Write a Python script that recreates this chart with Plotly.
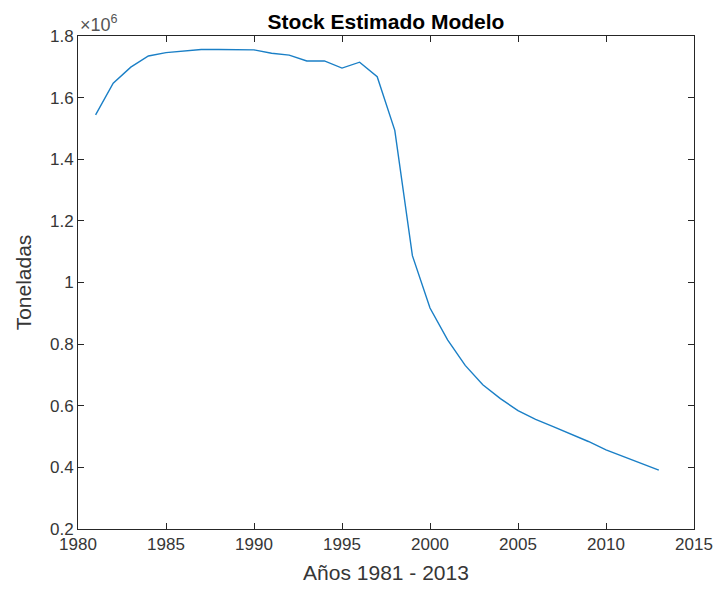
import plotly.graph_objects as go

# Estimated stock (tonnes), one value per year 1981-2013
years = list(range(1981, 2014))
stock_t = [
    1544000, 1647000, 1699000, 1735000, 1746000, 1752000, 1756000, 1756000,
    1756000, 1755000, 1744000, 1738000, 1719000, 1719000, 1696000, 1715000,
    1668000, 1494000, 1087000, 917000, 814000, 731000, 668000, 623000,
    584000, 556000, 532000, 508000, 484000, 457000, 435000, 413000, 391000,
]

x_ticks = [1980, 1985, 1990, 1995, 2000, 2005, 2010, 2015]
y_ticks = [0.2e6, 0.4e6, 0.6e6, 0.8e6, 1.0e6, 1.2e6, 1.4e6, 1.6e6, 1.8e6]
y_ticktext = ["%g" % (v / 1e6) for v in y_ticks]

font_family = "Liberation Sans, Arial, Helvetica, sans-serif"
ink = "#262626"
text_ink = "#363636"

fig = go.Figure()
fig.add_trace(go.Scatter(
    x=years, y=stock_t, mode="lines",
    line=dict(color="#1a7fc6", width=1.4),
    showlegend=False,
))

axis_common = dict(
    showline=True, linecolor=ink, linewidth=1, mirror="ticks",
    ticks="inside", ticklen=6, tickwidth=1, tickcolor=ink,
    showgrid=False, zeroline=False,
    tickfont=dict(family=font_family, size=17, color=text_ink),
)

fig.update_layout(
    width=725, height=592,
    margin=dict(l=78, r=24, t=36, b=62),
    paper_bgcolor="white", plot_bgcolor="white",
    title=dict(
        text="<b>Stock Estimado Modelo</b>",
        x=0.5, xref="paper", xanchor="center",
        y=1, yref="paper", yanchor="bottom", pad=dict(b=7),
        font=dict(family=font_family, size=21, color="black"),
    ),
    xaxis=dict(
        range=[1980, 2015], tickvals=x_ticks,
        title=dict(text="Años 1981 - 2013", standoff=11,
                   font=dict(family=font_family, size=21, color=text_ink)),
        **axis_common,
    ),
    yaxis=dict(
        range=[0.2e6, 1.8e6], tickvals=y_ticks, ticktext=y_ticktext,
        title=dict(text="Toneladas", standoff=12,
                   font=dict(family=font_family, size=21, color=text_ink)),
        **axis_common,
    ),
    annotations=[dict(
        text="×10<sup>6</sup>", xref="paper", yref="paper",
        x=0, y=1, xanchor="left", yanchor="bottom", yshift=-1,
        showarrow=False,
        font=dict(family=font_family, size=18, color="#555555"),
    )],
)

fig.write_html("out.html")
